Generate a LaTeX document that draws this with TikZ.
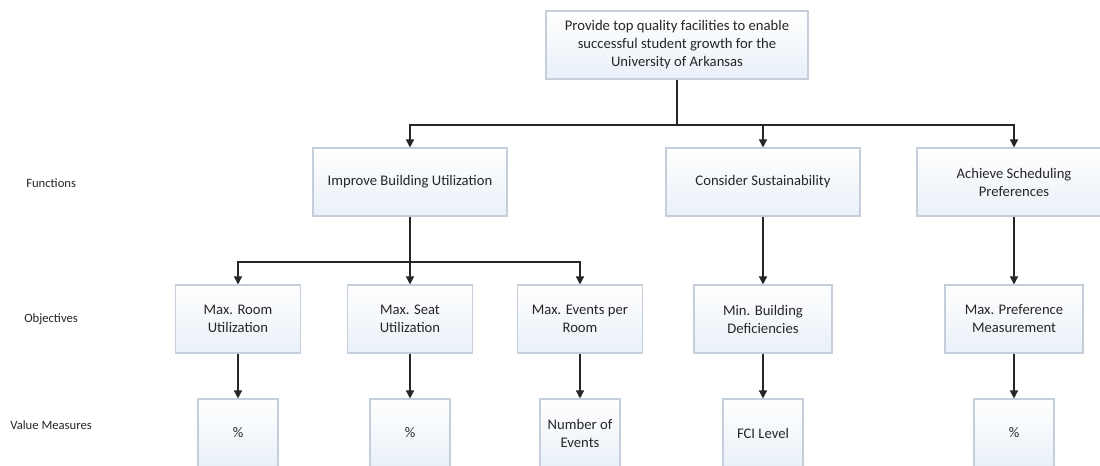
\documentclass[tikz,border=0pt]{standalone}
\usepackage{fontspec}
\setmainfont{Carlito}
\usetikzlibrary{arrows.meta}
\definecolor{boxline}{HTML}{C4CFDB}
\definecolor{boxfill}{HTML}{E9F0F8}
\definecolor{txt}{HTML}{262626}
\tikzset{
  bx/.style={draw=boxline, line width=0.8pt, top color=white, bottom color=boxfill,
    shading angle=0, align=center, inner sep=2pt, text=txt,
    font=\fontsize{11pt}{13.5pt}\selectfont, minimum height=51pt},
  goalbox/.style={bx, minimum width=196.5pt},
  funcbox/.style={bx, minimum width=145.5pt},
  objbox/.style={bx, minimum width=93.75pt},
  objwide/.style={bx, minimum width=103.5pt},
  valbox/.style={bx, minimum width=60pt},
  lbl/.style={anchor=west, inner sep=0pt, text=txt, font=\fontsize{9.5pt}{11pt}\selectfont},
  conn/.style={line width=1pt, draw=black!85},
  arr/.style={conn, -{Triangle[length=6pt,width=6pt]}}
}
\begin{document}
\begin{tikzpicture}[x=0.75pt,y=-0.75pt]
\clip (0,0) rectangle (1100,466);
\fill[white] (0,0) rectangle (1100,466);
% goal
\node[goalbox] (goal) at (677,45) {Provide top quality facilities to enable\\successful student growth for the\\University of Arkansas};
% functions
\node[funcbox] (f1) at (410,182) {Improve Building Utilization};
\node[funcbox] (f2) at (763,182) {Consider Sustainability};
\node[funcbox] (f3) at (1014,182) {Achieve Scheduling\\Preferences};
% objectives
\node[objbox] (o1) at (238,319) {Max. Room\\Utilization};
\node[objbox] (o2) at (410,319) {Max. Seat\\Utilization};
\node[objbox] (o3) at (580,319) {Max. Events per\\Room};
\node[objwide] (o4) at (763,319) {Min. Building\\Deficiencies};
\node[objwide] (o5) at (1014,319) {Max. Preference\\Measurement};
% value measures
\node[valbox] (v1) at (238,433) {\%};
\node[valbox] (v2) at (410,433) {\%};
\node[valbox] (v3) at (580,433) {Number of\\Events};
\node[valbox] (v4) at (763,433) {FCI Level};
\node[valbox] (v5) at (1014,433) {\%};
% row labels
\node[lbl] (lf) at (26,183) {Functions};
\node[lbl] (lo) at (24,319) {Objectives};
\node[lbl] (lv) at (10,425) {Value Measures};
% connectors
\coordinate (j1) at (677,125);
\coordinate (j2) at (410,262);
\draw[conn] (goal.south) -- (j1);
\draw[arr] (j1) -| (f1.north);
\draw[arr] (j1) -| (f2.north);
\draw[arr] (j1) -| (f3.north);
\draw[conn] (f1.south) -- (j2);
\draw[arr] (j2) -| (o1.north);
\draw[arr] (j2) -- (o2.north);
\draw[arr] (j2) -| (o3.north);
\draw[arr] (f2.south) -- (o4.north);
\draw[arr] (f3.south) -- (o5.north);
\draw[arr] (o1.south) -- (v1.north);
\draw[arr] (o2.south) -- (v2.north);
\draw[arr] (o3.south) -- (v3.north);
\draw[arr] (o4.south) -- (v4.north);
\draw[arr] (o5.south) -- (v5.north);
\end{tikzpicture}
\end{document}
